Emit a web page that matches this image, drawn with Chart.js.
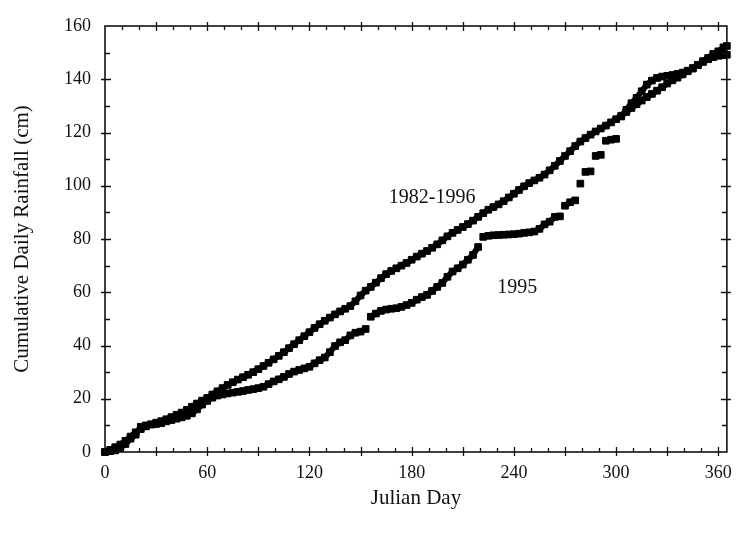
<!DOCTYPE html>
<html><head><meta charset="utf-8">
<script src="https://cdn.jsdelivr.net/npm/chart.js@4"></script>
<style>html,body{margin:0;padding:0;background:#fff}#wrap{width:742px;height:534px}</style>
</head><body><div id="wrap"><canvas id="c" width="742" height="534"></canvas></div>
<script>
// ---- data ----
const days = [0,3,6,9,12,15,18,21,24,27,30,33,36,39,42,45,48,51,54,57,60,63,66,69,72,75,78,81,84,87,90,93,96,99,102,105,108,111,114,117,120,123,126,129,132,135,138,141,144,147,150,153,156,159,162,165,168,171,174,177,180,183,186,189,192,195,198,201,204,207,210,213,216,219,222,225,228,231,234,237,240,243,246,249,252,255,258,261,264,267,270,273,276,279,282,285,288,291,294,297,300,303,306,309,312,315,318,321,324,327,330,333,336,339,342,345,348,351,354,357,360,363,365];
const rainAvg = [
0,0.8,1.8,2.8,4.2,5.8,7.4,8.6,9.6,10.4,
11.0,11.6,12.3,13.1,14.0,14.8,15.8,17.0,18.2,19.3,
20.3,21.6,22.8,24.0,25.2,26.2,27.2,28.1,29.0,30.0,
31.1,32.3,33.5,34.8,36.1,37.5,39.0,40.5,42.0,43.5,
45.0,46.6,48.0,49.3,50.5,51.7,52.8,53.8,54.8,56.6,
58.8,60.6,62.0,63.6,65.3,66.8,68.0,69.0,70.0,71.0,
72.2,73.4,74.5,75.5,76.7,78.0,79.5,81.0,82.3,83.4,
84.5,85.6,86.9,88.3,89.7,91.0,92.0,93.0,94.2,95.6,
97.0,98.4,99.8,101.0,102.0,103.0,104.2,105.8,107.5,109.3,
111.2,113.0,114.9,116.6,117.9,119.2,120.4,121.5,122.6,123.8,
125.0,126.3,127.7,129.2,130.6,132.0,133.3,134.5,135.7,137.0,
138.4,139.6,140.6,141.8,143.0,144.2,145.4,146.5,147.5,148.3,
148.8,149.0,149.2];
const rain1995 = [
0,0.3,0.6,1.5,3.0,5.0,6.5,9.5,10.0,10.3,
10.5,10.8,11.5,12.0,12.5,13.0,13.6,14.5,16.0,17.8,
19.2,20.4,21.2,21.6,22.0,22.3,22.6,22.9,23.3,23.6,
24.0,24.5,25.5,26.5,27.3,28.2,29.3,30.2,30.8,31.4,
32.0,33.3,34.5,35.5,37.5,39.8,41.2,42.0,43.8,44.8,
45.2,46.2,50.8,52.0,53.0,53.5,53.8,54.0,54.5,55.2,
56.0,57.2,58.2,59.0,60.5,62.0,63.5,65.8,67.8,69.0,
70.4,72.2,74.0,77.0,80.8,81.2,81.4,81.5,81.6,81.7,
81.8,82.0,82.3,82.5,82.8,83.8,85.5,86.5,88.3,88.5,
92.5,93.8,94.5,100.8,105.2,105.4,111.2,111.6,116.9,117.3,
117.6,126.0,128.5,131.0,133.0,135.5,138.0,139.5,140.5,141.0,
141.3,141.6,142.0,142.5,143.2,144.0,145.3,146.8,148.0,149.5,
150.5,152.0,152.5];
const seriesNames = ['1982-1996','1995'];
const xTickValues = [0,60,120,180,240,300,360];
const yTickValues = [0,20,40,60,80,100,120,140,160];
const xTitle = 'Julian Day';
const yTitle = 'Cumulative Daily Rainfall (cm)';

// ---- styling / layout ----
const FONT = '"Liberation Serif","Times New Roman",serif';
const INK = '#111';
const JUMP = 3.5; // rises larger than this are drawn as separate marks, not joined
const labelSpots = [ {i:0, x:192, y:95.5}, {i:1, x:242, y:61.7} ];

const framePlugin = {
  id: 'frame',
  afterDraw(chart) {
    const {ctx, chartArea: a, scales: {x, y}} = chart;
    ctx.save();
    ctx.strokeStyle = INK;
    ctx.lineWidth = 1.6;
    ctx.strokeRect(a.left, a.top, a.right - a.left, a.bottom - a.top);
    ctx.lineWidth = 1.3;
    ctx.beginPath();
    for (let v = 10; v < x.max; v += 10) {
      const px = Math.round(x.getPixelForValue(v)) + 0.5;
      const major = v % 30 === 0;
      const inL = major ? 5 : 4, outL = major ? 4 : 0;
      ctx.moveTo(px, a.bottom + outL); ctx.lineTo(px, a.bottom - inL);
      ctx.moveTo(px, a.top - outL); ctx.lineTo(px, a.top + inL);
    }
    for (let v = 10; v < y.max; v += 10) {
      const py = Math.round(y.getPixelForValue(v)) + 0.5;
      const major = v % 20 === 0;
      const inL = major ? 6 : 5, outL = major ? 4 : 0;
      ctx.moveTo(a.left - outL, py); ctx.lineTo(a.left + inL, py);
      ctx.moveTo(a.right + outL, py); ctx.lineTo(a.right - inL, py);
    }
    ctx.stroke();
    ctx.fillStyle = INK;
    ctx.font = '20px ' + FONT;
    ctx.textAlign = 'center';
    ctx.textBaseline = 'middle';
    labelSpots.forEach(s => {
      ctx.fillText(seriesNames[s.i], x.getPixelForValue(s.x), y.getPixelForValue(s.y));
    });
    ctx.restore();
  }
};

const mk = (vals) => days.map((d, i) => ({x: d, y: vals[i]}));
const seg = { borderColor: c => (c.p1.parsed.y - c.p0.parsed.y > JUMP ? 'rgba(0,0,0,0)' : '#000') };
const style = { showLine: true, borderWidth: 6, borderColor: '#000', backgroundColor: '#000',
  pointStyle: 'rect', pointRadius: 4.7, pointBorderWidth: 1, pointBorderColor: '#000',
  pointBackgroundColor: '#000', clip: false, segment: seg, tension: 0, borderJoinStyle: 'round' };

new Chart(document.getElementById('c'), {
  type: 'scatter',
  data: {
    datasets: [
      Object.assign({ label: seriesNames[0], data: mk(rainAvg) }, style),
      Object.assign({ label: seriesNames[1], data: mk(rain1995) }, style)
    ]
  },
  options: {
    responsive: false, animation: false, devicePixelRatio: 1,
    layout: { padding: { top: 26, right: 11, left: 0, bottom: 0 } },
    plugins: { legend: { display: false }, tooltip: { enabled: false } },
    scales: {
      x: {
        type: 'linear', min: 0, max: 365,
        afterBuildTicks: s => { s.ticks = xTickValues.map(v => ({value: v})); },
        afterFit: s => { s.height = 82; },
        grid: { display: false, drawTicks: false },
        border: { display: false },
        ticks: { padding: 10, color: INK, font: { family: FONT, size: 18 }, maxRotation: 0 },
        title: { display: true, text: xTitle, color: INK, font: { family: FONT, size: 21 },
                 padding: { top: 0, bottom: 23 } }
      },
      y: {
        type: 'linear', min: 0, max: 160,
        afterBuildTicks: s => { s.ticks = yTickValues.map(v => ({value: v})); },
        afterFit: s => { s.width = 105; },
        grid: { display: false, drawTicks: false },
        border: { display: false },
        ticks: { padding: 14, color: INK, font: { family: FONT, size: 18 } },
        title: { display: true, text: yTitle, color: INK, font: { family: FONT, size: 21 },
                 padding: { top: 10, bottom: 0 } }
      }
    }
  },
  plugins: [framePlugin]
});
</script></body></html>
